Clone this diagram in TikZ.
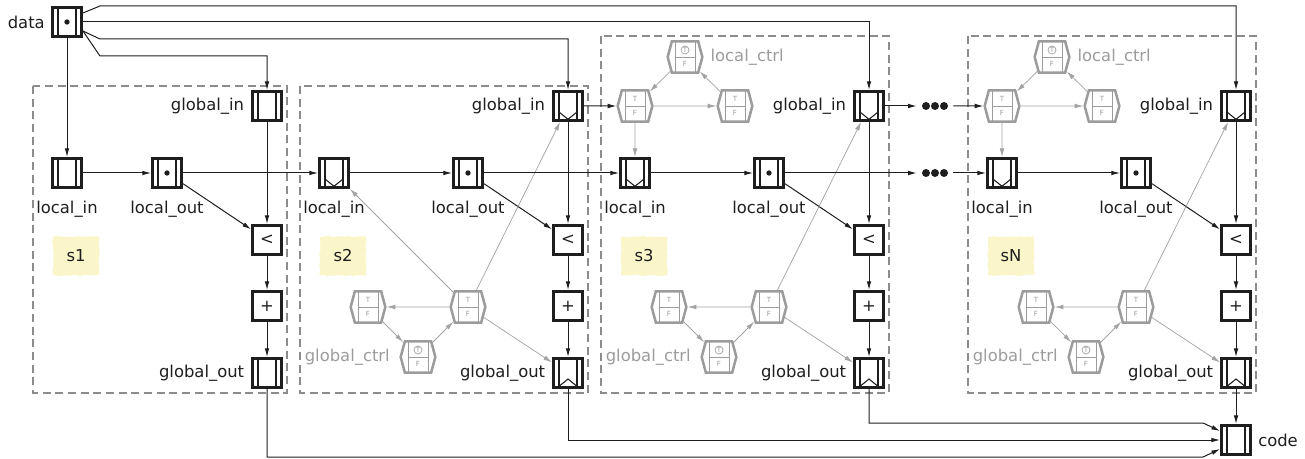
\documentclass[tikz,border=0pt]{standalone}
\usepackage{fontspec}
\setmainfont{DejaVu Sans}
\usetikzlibrary{arrows.meta,positioning,shapes.symbols,decorations.pathmorphing}
\definecolor{ink}{HTML}{1E1E1E}
\definecolor{ctrlgray}{HTML}{9C9C9C}
\definecolor{edgegray}{HTML}{A3A3A3}
\definecolor{framegray}{HTML}{8C8C8C}
\definecolor{noteyellow}{HTML}{FAF6CA}
\newcommand{\reglines}{%
  \coordinate (ppc) at (path picture bounding box.center);
  \draw[ink, line width=0.8pt] ([shift={(-6.75pt,15pt)}]ppc) -- ([shift={(-6.75pt,-15pt)}]ppc)
    ([shift={(6.75pt,15pt)}]ppc) -- ([shift={(6.75pt,-15pt)}]ppc);}
\newcommand{\hexlines}{%
  \coordinate (ppc) at (path picture bounding box.center);
  \draw[ctrlgray, line width=0.5pt] ([shift={(-7.5pt,14pt)}]ppc) -- ([shift={(-7.5pt,-14pt)}]ppc)
    ([shift={(7.5pt,14pt)}]ppc) -- ([shift={(7.5pt,-14pt)}]ppc)
    ([xshift=-7.5pt]ppc) -- ([xshift=7.5pt]ppc);}
\tikzset{
regbox/.style={
    rectangle,
    draw=ink,
    line width=2.2pt,
    minimum size=21.75pt,
    inner sep=0pt,
    text=ink
},
reg/.style={regbox, path picture={\reglines}},
regdot/.style={regbox, path picture={\reglines \fill[ink] (ppc) circle (2pt);}},
regin/.style={regbox, path picture={\reglines
    \draw[ink, line width=0.8pt] ([shift={(-6.75pt,-4.5pt)}]ppc) -- ([yshift=-10pt]ppc) -- ([shift={(6.75pt,-4.5pt)}]ppc);}},
regout/.style={regbox, path picture={\reglines
    \draw[ink, line width=0.8pt] ([shift={(-6.75pt,-10pt)}]ppc) -- ([yshift=-4.5pt]ppc) -- ([shift={(6.75pt,-10pt)}]ppc);}},
hexbase/.style={
    signal,
    signal to=east and west,
    signal pointer angle=150,
    draw=ctrlgray,
    line width=1.9pt,
    minimum width=26pt,
    minimum height=23.5pt,
    inner sep=0pt,
    text=ctrlgray,
    align=center,
    font=\fontsize{5.3}{10.5}\selectfont
},
hexc/.style={hexbase, path picture={\hexlines}},
hexct/.style={hexbase, path picture={\hexlines
    \draw[ctrlgray, line width=0.5pt] ([yshift=5.25pt]ppc) circle (3pt);}},
stagebox/.style={
    draw=framegray,
    line width=1.1pt,
    dash pattern=on 6pt off 3.5pt
},
note/.style={
    fill=noteyellow,
    minimum width=34.5pt,
    minimum height=29pt,
    text=ink,
    decorate,
    decoration={random steps, segment length=2.5pt, amplitude=0.5pt}
},
txt/.style={inner sep=0pt, text=ink},
ctrltxt/.style={inner sep=0pt, text=ctrlgray},
dotsbox/.style={minimum width=27pt, minimum height=8pt, inner sep=0pt},
link/.style={->, draw=ink, line width=0.75pt},
ctrl/.style={->, draw=edgegray, line width=0.55pt}
}

\begin{document}
\begin{tikzpicture}[x=0.75pt, y=-0.75pt, >={Latex[length=6.5pt,width=3.5pt]},
    font=\fontsize{12.3}{14}\selectfont]
\useasboundingbox (0,0) rectangle (1305,459);

% source and sink
\node[regdot] (data) at (67,22) {};
\node[txt, left=4.5pt of data] (datal) {data};
\node[reg] (code) at (1236,440) {};
\node[txt, right=4.5pt of code] (codel) {code};

% first stage
\draw[stagebox] (33,86) rectangle (287,393);
\node[note] (n1) at (76,256) {s1};
\node[reg] (gi1) at (267,106) {};
\node[reg] (li1) at (67,173) {};
\node[regdot] (lo1) at (167,173) {};
\node[regbox] (lt1) at (267,240) {<};
\node[regbox] (pl1) at (267,306) {+};
\node[reg] (go1) at (267,373) {};
\node[txt, left=5pt of gi1] (gil1) {global\_in};
\node[txt, left=5pt of go1] (gol1) {global\_out};
\node[txt, below=9pt of li1] (lil1) {local\_in};
\node[txt, below=9pt of lo1] (lol1) {local\_out};
\draw[link] (li1) -- (lo1);
\draw[link] (lo1) -- (lt1);
\draw[link] (gi1) -- (lt1);
\draw[link] (lt1) -- (pl1);
\draw[link] (pl1) -- (go1);

% other stages
\foreach \stg/\gx/\gt in {2/568/86, 3/869/36, N/1236/36}{
  \draw[stagebox] (\gx-268,\gt) rectangle (\gx+20,393);
  \node[note] (n\stg) at (\gx-225,256) {s\stg};
  \node[regin] (gi\stg) at (\gx,106) {};
  \node[regin] (li\stg) at (\gx-234,173) {};
  \node[regdot] (lo\stg) at (\gx-100,173) {};
  \node[regbox] (lt\stg) at (\gx,240) {<};
  \node[regbox] (pl\stg) at (\gx,306) {+};
  \node[regout] (go\stg) at (\gx,373) {};
  \node[txt, left=5pt of gi\stg] (gil\stg) {global\_in};
  \node[txt, left=5pt of go\stg] (gol\stg) {global\_out};
  \node[txt, below=9pt of li\stg] (lil\stg) {local\_in};
  \node[txt, below=9pt of lo\stg] (lol\stg) {local\_out};
  % global control
  \node[hexc] (gca\stg) at (\gx-100,307) {T\\F};
  \node[hexc] (gcb\stg) at (\gx-200,307) {T\\F};
  \node[hexct] (gcc\stg) at (\gx-150,357) {T\\F};
  \node[ctrltxt, left=7pt of gcc\stg] (gcl\stg) {global\_ctrl};
  \draw[link] (li\stg) -- (lo\stg);
  \draw[link] (lo\stg) -- (lt\stg);
  \draw[link] (gi\stg) -- (lt\stg);
  \draw[link] (lt\stg) -- (pl\stg);
  \draw[link] (pl\stg) -- (go\stg);
  \draw[ctrl] (gca\stg) -- (gcb\stg);
  \draw[ctrl] (gcb\stg) -- (gcc\stg);
  \draw[ctrl] (gcc\stg) -- (gca\stg);
  \draw[ctrl] (gca\stg) -- (gi\stg);
  \draw[ctrl] (gca\stg) -- (go\stg);
}
\draw[ctrl] (gca2) -- (li2);

% local control
\foreach \stg/\gx in {3/869, N/1236}{
  \node[hexc] (lcl\stg) at (\gx-234,106) {T\\F};
  \node[hexc] (lcr\stg) at (\gx-134,106) {T\\F};
  \node[hexct] (lct\stg) at (\gx-184,57) {T\\F};
  \node[ctrltxt, right=5pt of lct\stg] (lctl\stg) {local\_ctrl};
  \draw[ctrl] (lct\stg) -- (lcl\stg);
  \draw[ctrl] (lcl\stg) -- (lcr\stg);
  \draw[ctrl] (lcr\stg) -- (lct\stg);
  \draw[ctrl] (lcl\stg) -- (li\stg);
}

% elided stages
\node[dotsbox] (dotg) at (935,106) {};
\node[dotsbox] (dotl) at (935,173) {};
\foreach \d in {-9,0,9}{
  \fill[ink] ([xshift=\d*0.75pt]dotg) circle (3pt);
  \fill[ink] ([xshift=\d*0.75pt]dotl) circle (3pt);
}

% between stages
\draw[link] (lo1) -- (li2);
\draw[link] (lo2) -- (li3);
\draw[link] (lo3) -- (dotl);
\draw[link] (dotl) -- (liN);
\draw[link] (gi2) -- (lcl3);
\draw[link] (gi3) -- (dotg);
\draw[link] (dotg) -- (lclN);

% data in
\draw[link] (data) -- (li1);
\draw[link] ([yshift=-6.75pt]data.east) -- ++(17,25) -| (gi1);
\draw[link] ([yshift=-6.75pt]data.east) -- ++(17,8) -| (gi2);
\draw[link] (data.east) -| (gi3);
\draw[link] ([yshift=6.75pt]data.east) -- ++(17,-7) -| (giN);

% code out
\draw[link] (go1) |- ([shift={(-17,17)}]code.west) -- ([yshift=-6.75pt]code.west);
\draw[link] (go2) |- (code);
\draw[link] (go3) |- ([shift={(-17,-17)}]code.west) -- ([yshift=6.75pt]code.west);
\draw[link] (goN) -- (code);

\end{tikzpicture}
\end{document}
